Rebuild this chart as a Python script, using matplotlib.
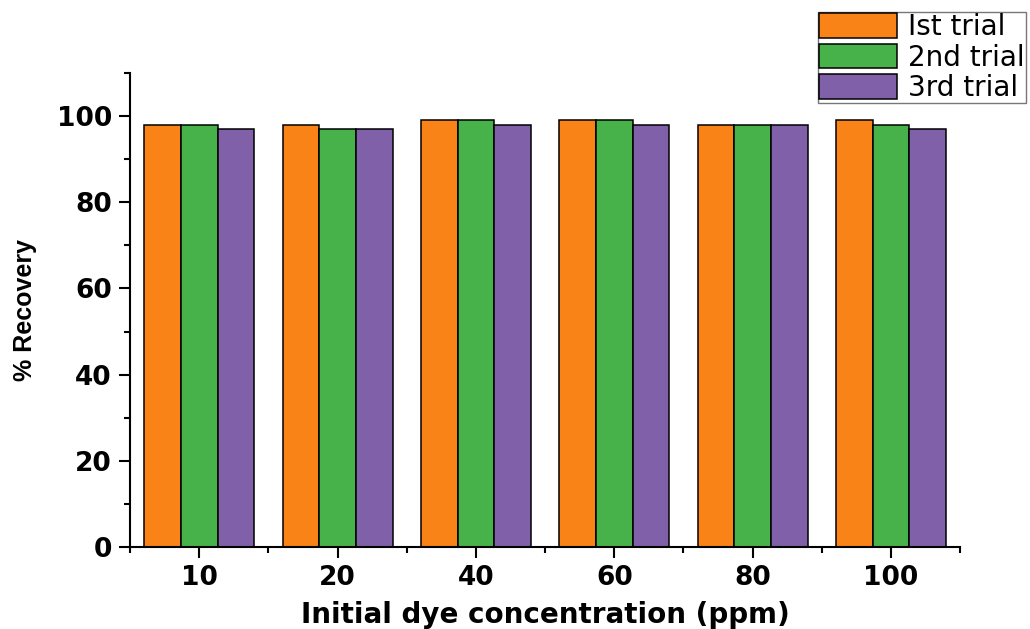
import numpy as np
import matplotlib
matplotlib.use("Agg")
import matplotlib.pyplot as plt
from matplotlib.ticker import MultipleLocator

# data
concentrations = ["10", "20", "40", "60", "80", "100"]
trial1 = [98, 98, 99, 99, 98, 99]
trial2 = [98, 97, 99, 99, 98, 98]
trial3 = [97, 97, 98, 98, 98, 97]
labels = ["Ist trial", "2nd trial", "3rd trial"]
colors = ["#F98316", "#48B24A", "#8060A8"]

plt.rcParams["font.family"] = ["DejaVu Sans"]

fig = plt.figure(figsize=(10.30, 6.29), dpi=100)
ax = fig.add_axes([0.1262, 0.1304, 0.806, 0.7536])

x = np.arange(len(concentrations))
w = 0.265
for i, (vals, lab, col) in enumerate(zip([trial1, trial2, trial3], labels, colors)):
    ax.bar(x + (i - 1) * w, vals, width=w, color=col, edgecolor="black",
           linewidth=1.1, label=lab)

ax.set_xlim(-0.5, len(concentrations) - 0.5)
ax.set_ylim(0, 110)
ax.set_xticks(x)
ax.set_xticklabels(concentrations)
ax.xaxis.set_minor_locator(MultipleLocator(1, offset=0.5))
ax.yaxis.set_major_locator(MultipleLocator(20))
ax.yaxis.set_minor_locator(MultipleLocator(10))

for s in ["top", "right"]:
    ax.spines[s].set_visible(False)
for s in ["left", "bottom"]:
    ax.spines[s].set_linewidth(1.5)

ax.tick_params(which="major", direction="out", length=8, width=1.5, pad=5)
ax.tick_params(which="minor", direction="out", length=4.5, width=1.5)
for t in ax.get_xticklabels() + ax.get_yticklabels():
    t.set_fontsize(19)
    t.set_fontweight("bold")

ax.set_xlabel("Initial dye concentration (ppm)", fontsize=20, fontweight="bold", labelpad=7)
ax.set_ylabel("% Recovery", fontsize=18, fontweight="bold", labelpad=14,
              family=["Liberation Sans", "DejaVu Sans"])

leg = ax.legend(loc="upper left", bbox_to_anchor=(0.794, 0.981), bbox_transform=fig.transFigure,
                fontsize=20, frameon=True, fancybox=False, borderaxespad=0, borderpad=0.05,
                handlelength=2.8, handleheight=1.0, labelspacing=0.08, handletextpad=0.4)
leg.get_frame().set_edgecolor("#555555")
leg.get_frame().set_linewidth(1.0)

fig.savefig("out.png", dpi=100)
